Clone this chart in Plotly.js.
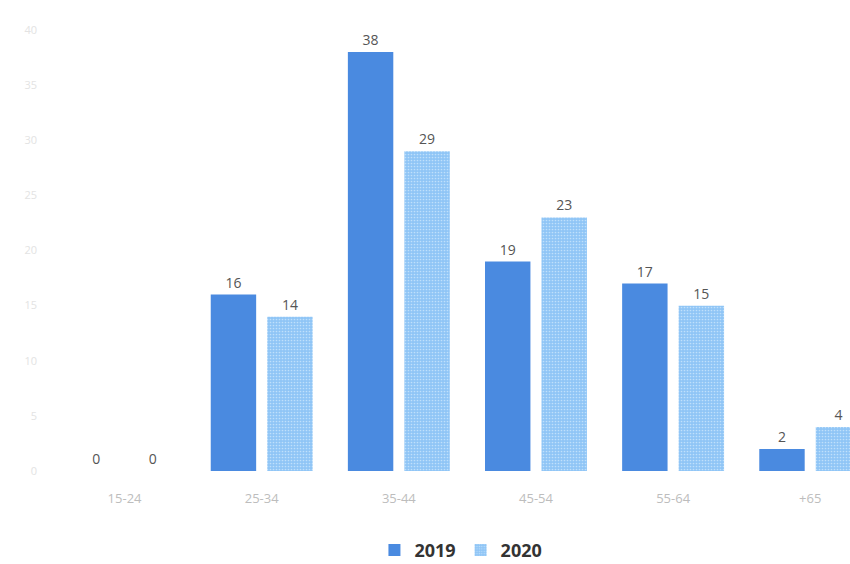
<!DOCTYPE html>
<html>
<head>
<meta charset="utf-8">
<script src="https://cdn.plot.ly/plotly-3.0.1.min.js"></script>
<style>html,body{margin:0;padding:0;background:#fff;}#chart{width:850px;height:564px;}</style>
</head>
<body>
<div id="chart"></div>
<script>
const categories = ["15-24", "25-34", "35-44", "45-54", "55-64", "+65"];
const values2019 = [0, 16, 38, 19, 17, 2];
const values2020 = [0, 14, 29, 23, 15, 4];
const seriesNames = ["2019", "2020"];
const yTicks = [0, 5, 10, 15, 20, 25, 30, 35, 40];

const labelFont = {family: "Open Sans, sans-serif", size: 14, color: "#555"};

const traces = [
  {
    type: "bar", name: seriesNames[0], x: categories, y: values2019,
    marker: {color: "#4a8ae0"},
    text: values2019.map(String), textposition: "outside", cliponaxis: false,
    textfont: labelFont
  },
  {
    type: "bar", name: seriesNames[1], x: categories, y: values2020,
    marker: {color: "#8fc5f6", pattern: {shape: ".", fgcolor: "#bfe0fb", bgcolor: "#8fc5f6", size: 3, solidity: 0.25}},
    text: values2020.map(String), textposition: "outside", cliponaxis: false,
    textfont: labelFont
  }
];

const layout = {
  width: 850, height: 564,
  margin: {l: 56, r: 0, t: 30, b: 93, autoexpand: false},
  paper_bgcolor: "#fff", plot_bgcolor: "#fff",
  barmode: "group", bargap: 0.176, bargroupgap: 0.196,
  font: {family: "Open Sans, sans-serif"},
  xaxis: {
    type: "category", range: [-0.5, 5.29], automargin: false,
    showgrid: false, zeroline: false, showline: false, ticks: "",
    ticklabelstandoff: 18,
    tickfont: {size: 13, color: "#bdbdbd"}
  },
  yaxis: {
    range: [0, 40], tickvals: yTicks, showgrid: false, zeroline: false, automargin: false,
    showline: false, ticks: "", ticklabelstandoff: 18,
    tickfont: {size: 11, color: "#e3e3e3"}
  },
  showlegend: true,
  legend: {
    orientation: "h", x: 0.51, xanchor: "center", y: -0.138, yanchor: "top",
    font: {size: 18, color: "#333", family: "Open Sans, sans-serif", weight: "bold"},
    itemwidth: 30
  }
};

Plotly.newPlot("chart", traces, layout, {displayModeBar: false, staticPlot: true});
</script>
</body>
</html>
